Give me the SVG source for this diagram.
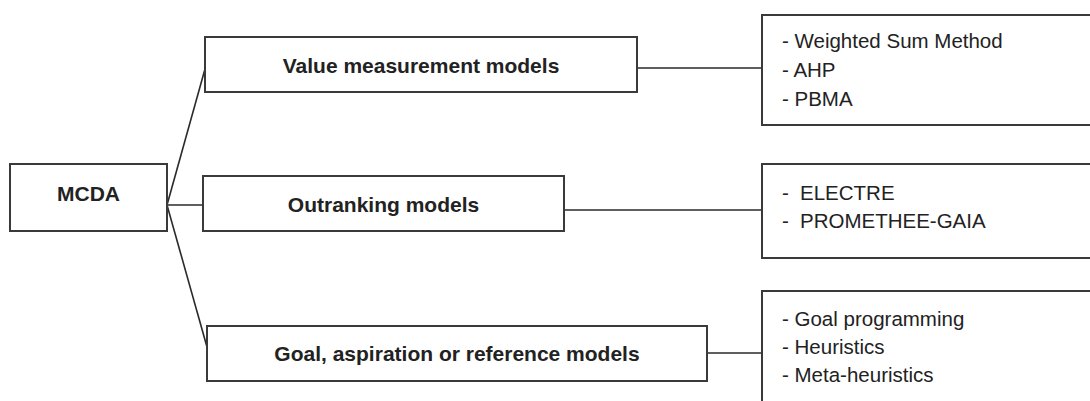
<svg xmlns="http://www.w3.org/2000/svg" width="1090" height="401" viewBox="0 0 1090 401">
<style>
.box{fill:#fff;stroke:#3a3a3a;stroke-width:2}
.con{stroke:#2a2a2a;stroke-width:1.6;fill:none}
.b{font-family:"Liberation Sans",Arial,sans-serif;font-weight:bold;font-size:21px;fill:#222;text-anchor:middle}
.r{font-family:"Liberation Sans",Arial,sans-serif;font-size:20.5px;fill:#222}
</style>
<rect width="1090" height="401" fill="#fff"/>
<g id="connectors">
<line class="con" x1="167" y1="205" x2="205" y2="69"/>
<line class="con" x1="167" y1="205" x2="203" y2="205"/>
<line class="con" x1="167" y1="205" x2="207" y2="347"/>
<line class="con" x1="637" y1="68" x2="762" y2="68"/>
<line class="con" x1="564" y1="210" x2="762" y2="210"/>
<line class="con" x1="707" y1="353" x2="762" y2="353"/>
</g>
<g id="mcda">
<rect class="box" x="10" y="164" width="157" height="67"/>
<text class="b" x="88.5" y="201">MCDA</text>
</g>
<g id="value">
<rect class="box" x="205" y="37" width="432" height="55"/>
<text class="b" x="421" y="73">Value measurement models</text>
</g>
<g id="outranking">
<rect class="box" x="203" y="176" width="361" height="55"/>
<text class="b" x="383.5" y="212">Outranking models</text>
</g>
<g id="goal">
<rect class="box" x="207" y="326" width="500" height="55"/>
<text class="b" x="457" y="361">Goal, aspiration or reference models</text>
</g>
<g id="value-methods">
<rect class="box" x="762" y="15" width="340" height="110"/>
<text class="r" x="782" y="48">- Weighted Sum Method</text>
<text class="r" x="782" y="77">- AHP</text>
<text class="r" x="782" y="106">- PBMA</text>
</g>
<g id="outranking-methods">
<rect class="box" x="762" y="164" width="340" height="94"/>
<text class="r" x="782" y="200">-<tspan x="800">ELECTRE</tspan></text>
<text class="r" x="782" y="228">-<tspan x="800">PROMETHEE-GAIA</tspan></text>
</g>
<g id="goal-methods">
<rect class="box" x="762" y="291" width="340" height="130"/>
<text class="r" x="782" y="326">- Goal programming</text>
<text class="r" x="782" y="354">- Heuristics</text>
<text class="r" x="782" y="382">- Meta-heuristics</text>
</g>
</svg>
